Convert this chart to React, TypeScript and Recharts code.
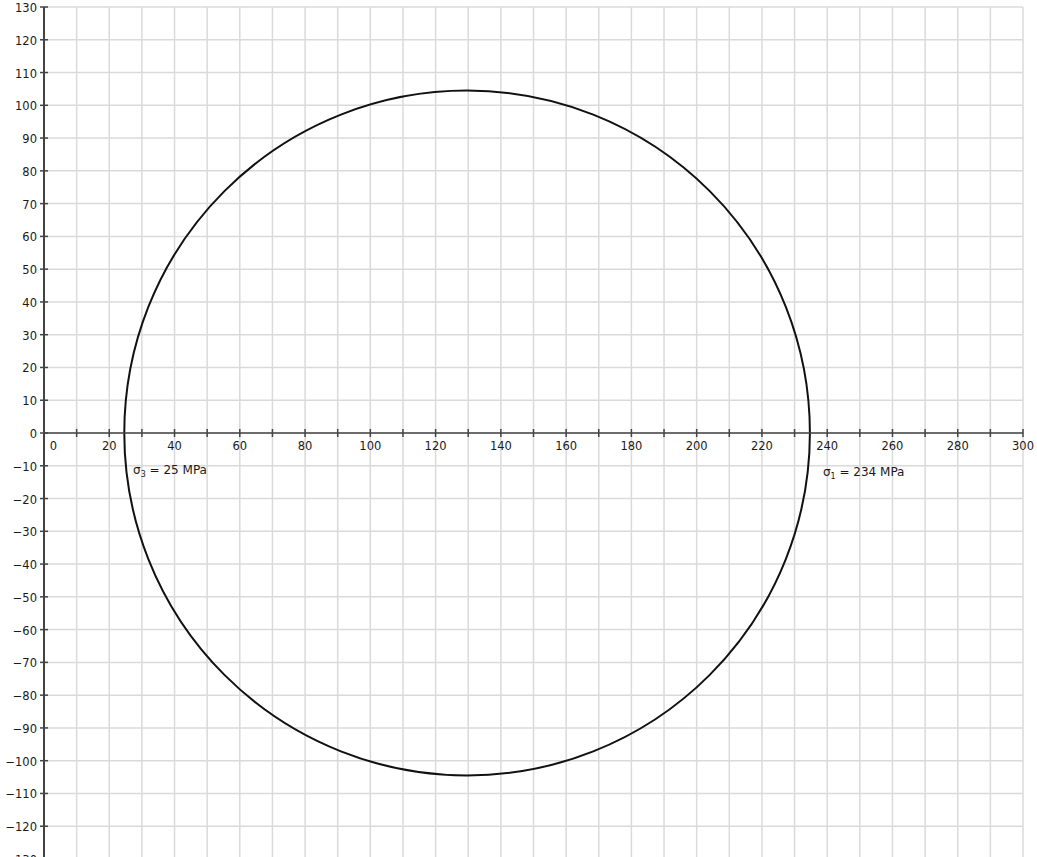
import {
  ComposedChart,
  XAxis,
  YAxis,
  CartesianGrid,
  ReferenceLine,
  ReferenceArea,
  Scatter,
} from 'recharts'

const xTicks = [
  0, 10, 20, 30, 40, 50, 60, 70, 80, 90, 100, 110, 120, 130, 140, 150, 160, 170, 180, 190, 200,
  210, 220, 230, 240, 250, 260, 270, 280, 290, 300,
]
const xLabels = [0, 20, 40, 60, 80, 100, 120, 140, 160, 180, 200, 220, 240, 260, 280, 300]
const yTicks = [
  -130, -120, -110, -100, -90, -80, -70, -60, -50, -40, -30, -20, -10, 0, 10, 20, 30, 40, 50, 60,
  70, 80, 90, 100, 110, 120, 130,
]

// Mohr circle (MPa)
const circleLeft = 24.6
const circleRight = 234.7
const tauMax = 104.5

const stressLabels = [
  { x: 27.3, y: -11.3, sub: '3', value: 25 },
  { x: 238.7, y: -11.8, sub: '1', value: 234 },
]

const axisPoints = xTicks.map((v) => ({ x: v, y: 0 }))

const FONT = '"DejaVu Sans", sans-serif'
const AXIS = '#444'
const TEXT = '#1a1a1a'

const fmt = (v: number) => (v < 0 ? `\u2212${-v}` : `${v}`)

function YTick({ x, y, payload }: any) {
  return (
    <g>
      <line x1={x - 4} x2={x + 4} y1={y} y2={y} stroke={AXIS} strokeWidth={1.5} />
      <text x={x - 7} y={y + 5} textAnchor="end" fontSize={11.5} fontFamily={FONT} fill={TEXT}>
        {fmt(payload.value)}
      </text>
    </g>
  )
}

function XTickMark({ cx, cy, payload }: any) {
  const v = payload.x
  const shift = v === 0 ? 9.5 : 0
  return (
    <g>
      <line x1={cx} x2={cx} y1={cy - 4} y2={cy + 4} stroke={AXIS} strokeWidth={1.5} />
      {xLabels.includes(v) && (
        <text
          x={cx + shift}
          y={cy + 17}
          textAnchor="middle"
          fontSize={11.5}
          fontFamily={FONT}
          fill={TEXT}
        >
          {v}
        </text>
      )}
    </g>
  )
}

function StressLabel({ cx, cy, payload }: any) {
  return (
    <text x={cx} y={cy + 4} fontSize={12} fontFamily={FONT} fill={TEXT}>
      σ
      <tspan fontSize={8} dy={3}>
        {payload.sub}
      </tspan>
      <tspan dy={-3}>{` = ${payload.value} MPa`}</tspan>
    </text>
  )
}

function MohrCircle(p: any) {
  return (
    <ellipse
      cx={p.x + p.width / 2}
      cy={p.y + p.height / 2}
      rx={p.width / 2}
      ry={p.height / 2}
      fill="none"
      stroke="#111"
      strokeWidth={2}
    />
  )
}

export default function App() {
  return (
    <div style={{ position: 'absolute', top: 0, left: 0, background: '#fff' }}>
      <ComposedChart
        width={1037}
        height={859}
        margin={{ top: 7, right: 14, bottom: 0, left: 0 }}
      >
        <CartesianGrid stroke="#dadada" strokeWidth={1.5} />
        <XAxis
          type="number"
          dataKey="x"
          domain={[0, 300]}
          ticks={xTicks}
          hide
        />
        <YAxis
          type="number"
          dataKey="y"
          domain={[-130, 130]}
          ticks={yTicks}
          width={44}
          axisLine={{ stroke: AXIS, strokeWidth: 2 }}
          tickLine={false}
          tickSize={0}
          tickMargin={0}
          tick={<YTick />}
          interval={0}
        />
        <ReferenceLine y={0} stroke={AXIS} strokeWidth={1.5} />
        <ReferenceArea
          x1={circleLeft}
          x2={circleRight}
          y1={-tauMax}
          y2={tauMax}
          shape={MohrCircle}
        />
        <Scatter data={axisPoints} shape={<XTickMark />} isAnimationActive={false} />
        <Scatter data={stressLabels} shape={<StressLabel />} isAnimationActive={false} />
      </ComposedChart>
    </div>
  )
}
